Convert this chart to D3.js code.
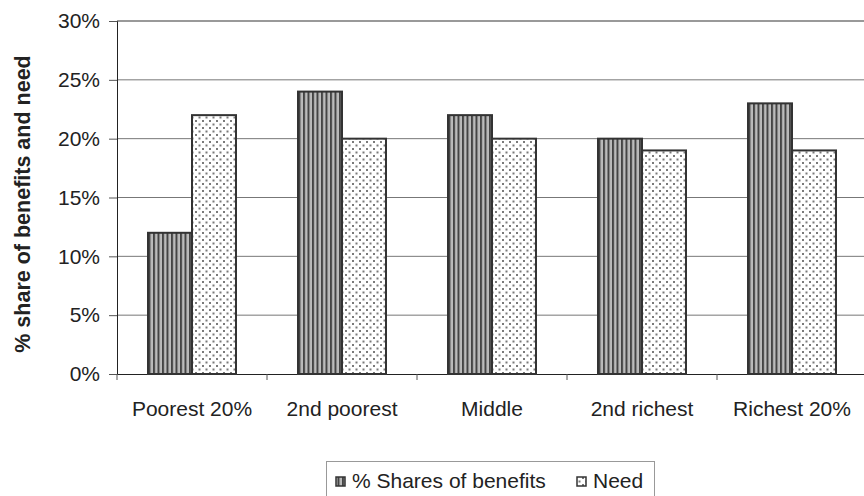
<!DOCTYPE html>
<html>
<head>
<meta charset="utf-8">
<script src="https://d3js.org/d3.v7.min.js"></script>
<style>
  body { margin: 0; background: #fff; }
  text { font-family: "Liberation Sans", Arial, sans-serif; fill: #222; }
</style>
</head>
<body>
<div id="chart"></div>
<script>
const categories = ["Poorest 20%", "2nd poorest", "Middle", "2nd richest", "Richest 20%"];
const series = ["% Shares of benefits", "Need"];
const benefits = [12, 24, 22, 20, 23];
const need = [22, 20, 20, 19, 19];
const yTicks = [0, 5, 10, 15, 20, 25, 30];

const W = 864, H = 496;
const margin = {top: 21, left: 117, bottom: 122};
const plotH = H - margin.top - margin.bottom;
const FONT = "Liberation Sans, Arial, sans-serif";

const svg = d3.select("#chart").append("svg")
  .attr("width", W).attr("height", H);

const defs = svg.append("defs");
const stripes = defs.append("pattern")
  .attr("id", "stripes").attr("patternUnits", "userSpaceOnUse")
  .attr("width", 4.5).attr("height", 4);
stripes.append("rect").attr("width", 4.5).attr("height", 4).attr("fill", "#bbb");
stripes.append("rect").attr("width", 2).attr("height", 4).attr("fill", "#444");

const dots = defs.append("pattern")
  .attr("id", "dots").attr("patternUnits", "userSpaceOnUse")
  .attr("width", 7).attr("height", 7);
dots.append("rect").attr("width", 7).attr("height", 7).attr("fill", "#fff");
dots.append("rect").attr("x", 1).attr("y", 1).attr("width", 2).attr("height", 2).attr("fill", "#7a7a7a");
dots.append("rect").attr("x", 4.5).attr("y", 4.5).attr("width", 2).attr("height", 2).attr("fill", "#7a7a7a");

const fills = ["url(#stripes)", "url(#dots)"];

const x = d3.scaleBand().domain(categories).range([margin.left, margin.left + 750]);
const y = d3.scaleLinear().domain([0, 30]).range([margin.top + plotH, margin.top]);
const xSub = d3.scaleBand().domain(series).range([31, 119]);

// gridlines
svg.append("g").selectAll("line").data(yTicks.filter(d => d > 0)).join("line")
  .attr("x1", margin.left).attr("x2", W)
  .attr("y1", d => y(d)).attr("y2", d => y(d))
  .attr("stroke", d => d === 30 ? "#999" : "#777")
  .attr("stroke-width", d => d === 30 ? 2 : 1);

// y axis
const yAxis = svg.append("g")
  .attr("transform", `translate(${margin.left},0)`)
  .call(d3.axisLeft(y).tickValues(yTicks).tickFormat(d => d + "%").tickSize(8).tickPadding(9));
yAxis.select(".domain").attr("stroke", "#222");
yAxis.selectAll(".tick line").attr("stroke", "#555");
yAxis.selectAll("text").attr("font-size", 21).style("font-family", FONT).attr("fill", "#222");

// x axis
const xAxis = svg.append("g")
  .attr("transform", `translate(0,${y(0)})`)
  .call(d3.axisBottom(x).tickSize(0).tickSizeOuter(0).tickPadding(27));
xAxis.select(".domain").attr("stroke", "#222");
xAxis.selectAll("text").attr("font-size", 21).style("font-family", FONT).attr("fill", "#222");
svg.append("g").selectAll("line").data(categories).join("line")
  .attr("x1", d => x(d)).attr("x2", d => x(d))
  .attr("y1", y(0)).attr("y2", y(0) + 6)
  .attr("stroke", "#555");

// bars
const data = categories.map((c, i) => ({cat: c, vals: [benefits[i], need[i]]}));
svg.append("g").selectAll("g").data(data).join("g")
  .attr("transform", d => `translate(${x(d.cat)},0)`)
  .selectAll("rect").data(d => d.vals.map((v, j) => ({key: series[j], v, j}))).join("rect")
  .attr("x", d => xSub(d.key))
  .attr("width", xSub.bandwidth())
  .attr("y", d => y(d.v))
  .attr("height", d => y(0) - y(d.v))
  .attr("fill", d => fills[d.j])
  .attr("stroke", "#333").attr("stroke-width", 2);

// y title
svg.append("text")
  .attr("transform", `translate(30,204) rotate(-90)`)
  .attr("text-anchor", "middle")
  .attr("font-size", 21.5).attr("font-weight", "bold")
  .text("% share of benefits and need");

// legend
const lg = svg.append("g");
lg.append("rect").attr("x", 326.5).attr("y", 461.5).attr("width", 328).attr("height", 40)
  .attr("fill", "none").attr("stroke", "#999");
const lx = [336, 577];
series.forEach((s, i) => {
  lg.append("rect").attr("x", lx[i]).attr("y", 477).attr("width", 9).attr("height", 9)
    .attr("fill", fills[i]).attr("stroke", "#333").attr("stroke-width", 1.5);
  lg.append("text").attr("x", lx[i] + 16).attr("y", 488)
    .attr("font-size", 21).text(s);
});
</script>
</body>
</html>
